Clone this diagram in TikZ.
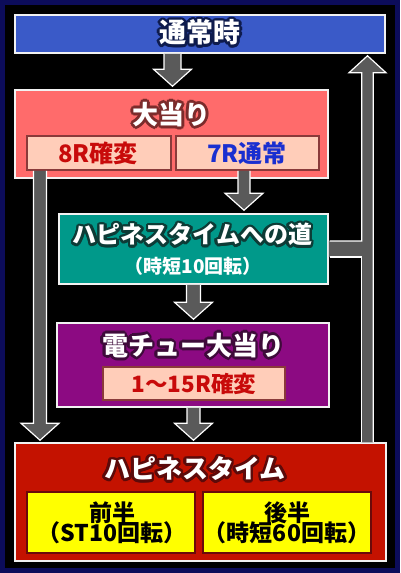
\documentclass[tikz,border=0pt]{standalone}
\usepackage{fontspec}
\setmainfont{Noto Sans CJK JP}[BoldFont={Noto Sans CJK JP Black}]
\usepackage{contour}
\usetikzlibrary{calc}
\definecolor{navyframe}{HTML}{0C0C5A}
\definecolor{tsujofill}{HTML}{3A5AC8}
\definecolor{tsujoout}{HTML}{0E1B4D}
\definecolor{daifill}{HTML}{FF6B6B}
\definecolor{daiout}{HTML}{7B2B2B}
\definecolor{subfill}{HTML}{FFCDB9}
\definecolor{subline}{HTML}{8A3A3A}
\definecolor{redtext}{HTML}{C80A0A}
\definecolor{bluetext}{HTML}{1A2FD0}
\definecolor{roadfill}{HTML}{00998A}
\definecolor{roadout}{HTML}{0D3B36}
\definecolor{denfill}{HTML}{8C0A82}
\definecolor{denout}{HTML}{3E0B3A}
\definecolor{hapfill}{HTML}{C41200}
\definecolor{hapout}{HTML}{5C0A0A}
\definecolor{yelfill}{HTML}{FFFF00}
\definecolor{yelline}{HTML}{6A0A0A}
\definecolor{arrowfill}{HTML}{5A5A5A}
\definecolor{boxline}{HTML}{F2F2F2}
\contourlength{2.6pt}
\newcommand\fatdown[3]{%
 \fill[arrowfill] ($#1+(-#3,0)$) -- ($#2+(-#3,-17)$) -- ($#2+(-19,-17)$) -- #2 -- ($#2+(19,-17)$) -- ($#2+(#3,-17)$) -- ($#1+(#3,0)$) -- cycle;
 \draw[arrowline] ($#1+(-#3,0)$) -- ($#2+(-#3,-17)$) -- ($#2+(-19,-17)$) -- #2 -- ($#2+(19,-17)$) -- ($#2+(#3,-17)$) -- ($#1+(#3,0)$);
}
\begin{document}
\begin{tikzpicture}[x=1pt,y=-1pt,
  box/.style={draw=boxline, line width=1.5pt, rectangle, inner sep=0pt},
  subbox/.style={draw=subline, line width=1.5pt, fill=subfill, rectangle, inner sep=0pt},
  yelbox/.style={draw=yelline, line width=1.5pt, fill=yelfill, rectangle, inner sep=0pt, minimum width=168pt, minimum height=61pt},
  title/.style={inner sep=0pt, text=white, font=\bfseries\fontsize{26pt}{26pt}\selectfont},
  subtext/.style={inner sep=0pt, font=\bfseries\fontsize{23pt}{23pt}\selectfont},
  arrowline/.style={draw=white, line width=1.2pt, line join=miter}]
\fill[navyframe] (0,0) rectangle (400,573);
\fill[black] (5,5) rectangle (395,568);
\useasboundingbox (0,0) rectangle (400,573);

% boxes
\node[box, fill=tsujofill, minimum width=370pt, minimum height=38pt] (tsujo) at (200,34) {};
\node[title, font=\bfseries\fontsize{27pt}{27pt}\selectfont] (tsujot) at (200,34) {\contour{tsujoout}{通常時}};

\node[box, fill=daifill, minimum width=313pt, minimum height=88pt] (dai) at (171.5,134) {};
\node[title] (dait) at (171.5,116) {\contour{daiout}{大当り}};
\node[subbox, minimum width=144pt, minimum height=34pt] (k8) at (99,153) {};
\node[subtext, text=redtext, font=\bfseries\fontsize{24pt}{24pt}\selectfont] (k8t) at (98,153) {8R確変};
\node[subbox, minimum width=143pt, minimum height=34pt] (t7) at (247.5,153) {};
\node[subtext, text=bluetext, font=\bfseries\fontsize{24pt}{24pt}\selectfont] (t7t) at (247,153) {7R通常};

\node[box, fill=roadfill, minimum width=269pt, minimum height=70pt] (road) at (193.5,249) {};
\node[title, font=\bfseries\fontsize{24pt}{24pt}\selectfont] (roadt) at (192.5,236) {\contour{roadout}{ハピネスタイムへの道}};
\node[inner sep=0pt, text=white, font=\bfseries\fontsize{19pt}{19pt}\selectfont] (roads) at (193,266) {（時短10回転）};

\node[box, fill=denfill, minimum width=272pt, minimum height=84pt] (den) at (193,365) {};
\node[title] (dent) at (193,347) {\contour{denout}{電チュー大当り}};
\node[subbox, minimum width=182pt, minimum height=33pt] (k15) at (194,383.5) {};
\node[subtext, text=redtext, font=\bfseries\fontsize{22.5pt}{22.5pt}\selectfont] (k15t) at (194,383.5) {1～15R確変};

\node[box, fill=hapfill, minimum width=371pt, minimum height=118pt] (hap) at (200.5,502) {};
\node[title] (hapt) at (195,470) {\contour{hapout}{ハピネスタイム}};
\node[yelbox] (zen) at (111,522.5) {};
\node[subtext, align=center] (zent) at (112,522.5) {前半\\[-3pt]（ST10回転）};
\node[yelbox] (koh) at (287,522.5) {};
\node[subtext, align=center] (koht) at (287,522.5) {後半\\[-3pt]（時短60回転）};

% connectors
\coordinate (a1x) at (172.5,0);
\coordinate (a2x) at (244,0);
\coordinate (a3x) at (193.5,0);
\coordinate (lx) at (40,0);
\coordinate (rx) at (367.5,0);
\coordinate (a1s) at (tsujo.south -| a1x);
\coordinate (a1t) at ($(dai.north -| a1x)+(0,-3)$);
\fatdown{(a1s)}{(a1t)}{8.5}
\coordinate (a2s) at (t7.south -| a2x);
\coordinate (a2t) at ($(road.north -| a2x)+(0,-3)$);
\fatdown{(a2s)}{(a2t)}{6}
\coordinate (a3s) at (road.south -| a3x);
\coordinate (a3t) at ($(den.north -| a3x)+(0,-3)$);
\fatdown{(a3s)}{(a3t)}{7}
\coordinate (a4s) at (den.south -| a3x);
\coordinate (a4t) at ($(hap.north -| a3x)+(0,-2)$);
\fatdown{(a4s)}{(a4t)}{6.5}
\coordinate (a5s) at (k8.south -| lx);
\coordinate (a5t) at ($(hap.north -| lx)+(0,-2)$);
\fatdown{(a5s)}{(a5t)}{6.5}

% return arrow with branch
\coordinate (rB) at (hap.north -| rx);
\coordinate (rT) at ($(tsujo.south -| rx)+(0,2)$);
\coordinate (rJ) at (road.east -| rx);
\fill[arrowfill] ($(rB)+(-5.8,0)$) -- ($(rJ)+(-5.8,8)$) -- ($(road.east)+(0,8)$) -- ($(road.east)+(0,-8)$) -- ($(rJ)+(-5.8,-8)$) -- ($(rT)+(-5.8,17)$) -- ($(rT)+(-18.5,17)$) -- (rT) -- ($(rT)+(18.5,17)$) -- ($(rT)+(5.8,17)$) -- ($(rB)+(5.8,0)$) -- cycle;
\draw[arrowline] ($(rB)+(-5.8,0)$) -- ($(rJ)+(-5.8,8)$) -- ($(road.east)+(0.75,8)$);
\draw[arrowline] ($(road.east)+(0.75,-8)$) -- ($(rJ)+(-5.8,-8)$) -- ($(rT)+(-5.8,17)$) -- ($(rT)+(-18.5,17)$) -- (rT) -- ($(rT)+(18.5,17)$) -- ($(rT)+(5.8,17)$) -- ($(rB)+(5.8,0)$);
\end{tikzpicture}
\end{document}
